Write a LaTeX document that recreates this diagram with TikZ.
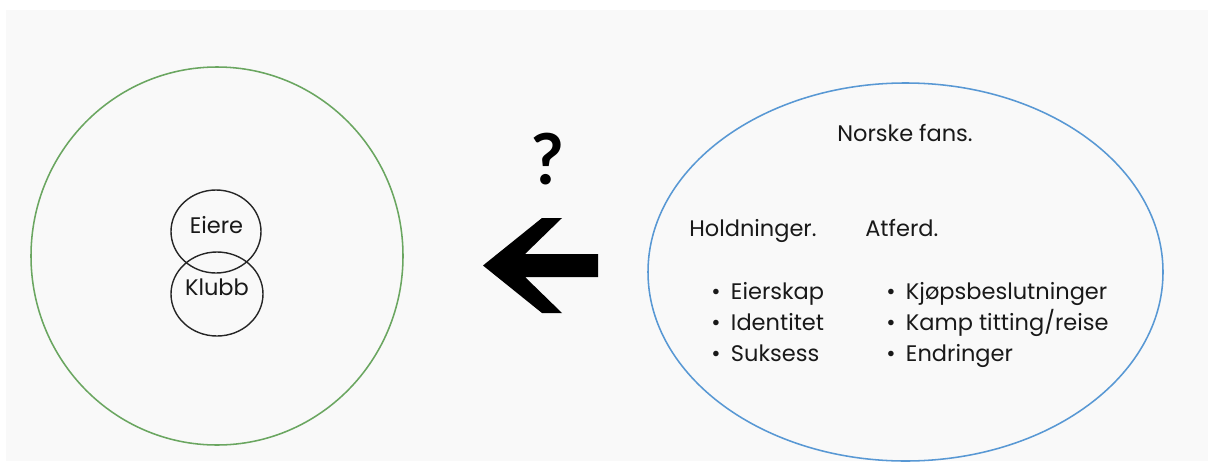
\documentclass[tikz,border=0pt]{standalone}
\usepackage{fontspec}
\setmainfont{Poppins}
\newfontfamily\qfont{Lato}
\definecolor{bgc}{RGB}{249,249,249}
\definecolor{greenc}{RGB}{106,166,96}
\definecolor{bluec}{RGB}{88,152,212}
\definecolor{txt}{RGB}{25,25,25}
\newcommand{\bul}{\makebox[14pt][l]{\textbullet}}
\begin{document}
\begin{tikzpicture}[x=0.025cm,y=-0.025cm,
  lbl/.style={inner sep=0pt,text=txt,font=\fontsize{16}{19}\selectfont},
  ring/.style={draw=black!85,line width=1pt}]
\useasboundingbox (0,0) rectangle (1208,461);
\fill[white] (0,0) rectangle (1208,461);
\fill[bgc] (6,10) rectangle (1208,461);
% left
\draw[greenc,line width=1.1pt] (217,256) ellipse [x radius=186,y radius=189];
\draw[ring] (216,231.5) ellipse [x radius=45,y radius=41.5];
\draw[ring] (217,294) ellipse [x radius=46,y radius=42];
\node[lbl,anchor=base] (eiere) at (216.5,233) {Eiere};
\node[lbl,anchor=base] (klubb) at (217,295) {Klubb};
% middle
\node[inner sep=0pt,font=\qfont\bfseries\fontsize{50}{50}\selectfont] (q) at (548,159) {?};
\fill[black] (483,265.5) -- (542,218) -- (562,218) -- (525,254) -- (598,254)
  -- (598,277) -- (525,277) -- (562,313) -- (542,313) -- cycle;
% right
\draw[bluec,line width=1.1pt] (905.5,272) ellipse [x radius=257.5,y radius=189];
\node[lbl,anchor=base] (norske) at (905,141) {Norske fans.};
\node[lbl,anchor=base west] (hold) at (689,236.7) {Holdninger.};
\node[lbl,anchor=base west] (atf) at (865,236.7) {Atferd.};
\node[lbl,anchor=base west] (h1) at (711,299.3) {\bul Eierskap};
\node[lbl,anchor=base west] (h2) at (711,330.3) {\bul Identitet};
\node[lbl,anchor=base west] (h3) at (711,361.3) {\bul Suksess};
\node[lbl,anchor=base west] (a1) at (886,299.3) {\bul Kjøpsbeslutninger};
\node[lbl,anchor=base west] (a2) at (886,330.3) {\bul Kamp titting/reise};
\node[lbl,anchor=base west] (a3) at (886,361.3) {\bul Endringer};
\end{tikzpicture}
\end{document}
